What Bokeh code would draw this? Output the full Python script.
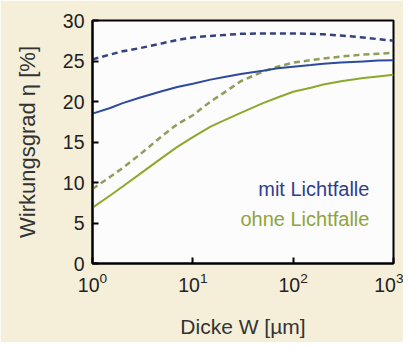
from bokeh.plotting import figure
from bokeh.models import Label, FixedTicker
from bokeh.embed import file_html
from bokeh.resources import INLINE

# thickness W in µm
dicke = [1, 1.5, 2, 3, 5, 7, 10, 15, 20, 30, 50, 70, 100, 150, 200, 300, 500, 700, 1000]
mit_ideal = [25.2, 25.8, 26.2, 26.6, 27.2, 27.6, 27.9, 28.1, 28.2, 28.35, 28.4, 28.4, 28.4, 28.35, 28.3, 28.15, 27.9, 27.7, 27.5]
mit_real = [18.5, 19.2, 19.8, 20.5, 21.3, 21.8, 22.2, 22.7, 23.0, 23.4, 23.8, 24.1, 24.3, 24.5, 24.65, 24.8, 24.95, 25.05, 25.1]
ohne_ideal = [9.2, 10.7, 11.8, 13.5, 15.8, 17.2, 18.3, 20.0, 21.0, 22.5, 23.7, 24.3, 24.8, 25.1, 25.3, 25.55, 25.8, 25.9, 26.0]
ohne_real = [6.9, 8.4, 9.5, 11.1, 13.1, 14.4, 15.6, 16.9, 17.6, 18.6, 19.8, 20.5, 21.2, 21.7, 22.1, 22.5, 22.9, 23.1, 23.3]

y_ticks = [0, 5, 10, 15, 20, 25, 30]
x_ticks = [1, 10, 100, 1000]

BG = "#F5EFD9"
FONT = "Liberation Sans"

p = figure(width=403, height=342, x_axis_type="log", x_range=(1, 1000), y_range=(0, 30),
           output_backend="svg", toolbar_location=None,
           min_border_left=92, min_border_right=10, min_border_top=20, min_border_bottom=79)
p.background_fill_color = "#FBFCFB"
p.border_fill_color = BG
p.outline_line_color = "black"
p.outline_line_width = 2
p.xgrid.visible = False
p.ygrid.visible = False

p.line(dicke, mit_ideal, line_color="#34407F", line_width=2.5, line_dash="6 4")
p.line(dicke, ohne_ideal, line_color="#8E9E58", line_width=2.5, line_dash="6 4")
p.line(dicke, mit_real, line_color="#2D4A9E", line_width=2)
p.line(dicke, ohne_real, line_color="#8DA82C", line_width=2)

for ax in (p.xaxis[0], p.yaxis[0]):
    ax.axis_line_color = "black"
    ax.axis_line_width = 2
    ax.major_tick_line_color = "black"
    ax.major_tick_line_width = 2
    ax.major_tick_in = 6
    ax.major_tick_out = 0
    ax.minor_tick_line_color = None
    ax.major_label_text_font = FONT
    ax.major_label_text_font_size = "19.5px"
    ax.major_label_text_color = "#222222"
    ax.major_label_standoff = 8
    ax.axis_label_text_font = FONT
    ax.axis_label_text_font_style = "normal"
    ax.axis_label_text_color = "#333333"

p.yaxis.ticker = FixedTicker(ticks=y_ticks)
p.xaxis.ticker = FixedTicker(ticks=x_ticks)

p.yaxis.axis_label = "Wirkungsgrad η [%]"
p.yaxis.axis_label_text_font_size = "22px"
p.yaxis.axis_label_standoff = 20

p.xaxis.axis_label = "Dicke W [µm]"
p.xaxis.axis_label_text_font_size = "21px"
p.xaxis.axis_label_standoff = 20

p.add_layout(Label(x=575, y=9.15, text="mit Lichtfalle", text_font=FONT, text_font_size="20px",
                   text_color="#2E3F8C", text_align="right", text_baseline="alphabetic"))
p.add_layout(Label(x=575, y=5.55, text="ohne Lichtfalle", text_font=FONT, text_font_size="20px",
                   text_color="#8FA43C", text_align="right", text_baseline="alphabetic"))

open("out.html", "w").write(file_html(p, INLINE))
